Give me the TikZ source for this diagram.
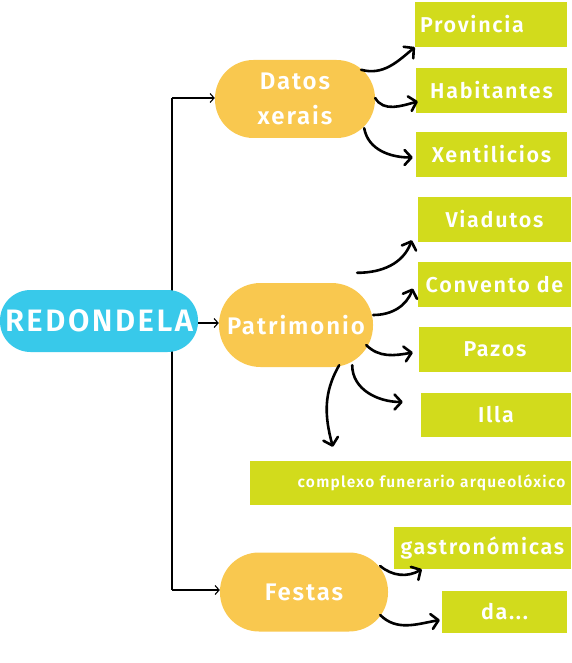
\documentclass[tikz,border=0pt]{standalone}
\usepackage{fontspec}
\setmainfont{Fira Sans}
\newfontfamily\mapfont[LetterSpace=8, BoldFont={Fira Sans SemiBold}]{Fira Sans}
\usetikzlibrary{arrows.meta,backgrounds}
\definecolor{rootblue}{HTML}{38C9EA}
\definecolor{pillorange}{HTML}{F9C84F}
\definecolor{leafgreen}{HTML}{D2DB1C}

\tikzset{
  pill/.style={fill=pillorange, text=white, inner sep=0pt, align=center,
    font=\mapfont\bfseries\fontsize{24}{35}\selectfont},
  leaf/.style={fill=leafgreen, text=white, inner sep=0pt, minimum height=45pt,
    font=\mapfont\bfseries\fontsize{21.5}{24}\selectfont},
  feed/.style={line width=1.1pt, -{Straight Barb[length=4pt,width=9pt]}},
  swoosh/.style={line width=2.6pt, line cap=round,
    -{Straight Barb[length=7pt,width=15pt,line cap=round,line join=round]}},
}

\begin{document}
\begin{tikzpicture}[x=1pt,y=1pt]
\useasboundingbox (0,0) rectangle (571,-663);

% centre
\node[fill=rootblue, text=white, inner sep=0pt, rounded corners=30.5pt,
  minimum width=198pt, minimum height=62pt,
  font=\mapfont\bfseries\fontsize{31}{34}\selectfont] (root) at (99,-321) {REDONDELA};

% branches
\node[pill, minimum width=160pt, minimum height=78pt, rounded corners=38.5pt] (datos) at (295,-99) {Datos\\xerais};
\node[pill, minimum width=154pt, minimum height=84pt, rounded corners=41.5pt] (patri) at (296,-325) {Patrimonio};
\node[pill, minimum width=168pt, minimum height=79pt, rounded corners=39pt] (festas) at (304,-592) {Festas};

% trunk
\coordinate (ttop) at (172,-98);
\coordinate (tbot) at (172,-590);
\begin{scope}[on background layer]
\draw[line width=2.6pt] (ttop) -- (tbot);
\end{scope}
\draw[feed] (ttop) -- (ttop -| datos.west);
\draw[feed] (tbot) -- (tbot -| festas.west);
\draw[feed] (root.east |- 0,-323) -- (patri.west |- 0,-323);

% leaves
\node[leaf, minimum width=152pt, text width=142pt, align=left] (prov) at (491,-24.5) {Provincia};
\node[leaf, minimum width=151pt] (habit) at (491.5,-90.5) {Habitantes};
\node[leaf, minimum width=151pt] (xent) at (491.5,-154.5) {Xentilicios};
\node[leaf, minimum width=153pt] (viad) at (494.5,-219.5) {Viadutos};
\node[leaf, minimum width=153pt] (conv) at (494.5,-284.5) {Convento de};
\node[leaf, minimum width=152pt] (pazos) at (495,-349.5) {Pazos};
\node[leaf, minimum width=150pt, minimum height=44pt] (illa) at (496,-415) {Illa};
\node[leaf, minimum width=321pt, minimum height=44pt, text width=310pt, align=right,
  font=\mapfont\bfseries\fontsize{15.5}{18}\selectfont] (compl) at (410.5,-483) {complexo funerario arqueolóxico};
\node[leaf, minimum width=177pt, minimum height=42pt] (gastro) at (482.5,-548) {gastronómicas};
\node[leaf, minimum width=125pt, minimum height=42pt] (da) at (504.5,-612) {da...};

% datos xerais
\draw[swoosh] ([shift={(-14,-10)}]datos.north east) to[out=-15,in=220] (prov.south west);
\draw[swoosh] ([yshift=1]datos.east) to[out=-60,in=195] ([shift={(2,-11)}]habit.west);
\draw[swoosh] ([shift={(-11,10)}]datos.south east) to[out=-80,in=180] ([shift={(-3,-3)}]xent.west);

% patrimonio
\draw[swoosh] ([shift={(-16,10)}]patri.north east) to[out=0,in=250] ([shift={(-6,2)}]viad.south west);
\draw[swoosh] ([yshift=10]patri.east) to[out=0,in=250] ([shift={(-5,-4)}]conv.west);
\draw[swoosh] ([shift={(-7,-20)}]patri.east) to[out=-45,in=190] ([shift={(-6,-3)}]pazos.west);
\draw[swoosh] ([shift={(-21,2)}]patri.south east) to[out=-90,in=180] ([shift={(-18,13)}]illa.west);
\draw[swoosh] ([shift={(-34,2)}]patri.south east) to[out=240,in=105] ([shift={(83,14)}]compl.north west);

% festas
\draw[swoosh] ([shift={(-8,26)}]festas.east) to[out=-40,in=210] ([xshift=28]gastro.south west);
\draw[swoosh] ([shift={(-8,-23)}]festas.east) to[out=-45,in=190] ([shift={(-2,-8)}]da.west);
\end{tikzpicture}
\end{document}
